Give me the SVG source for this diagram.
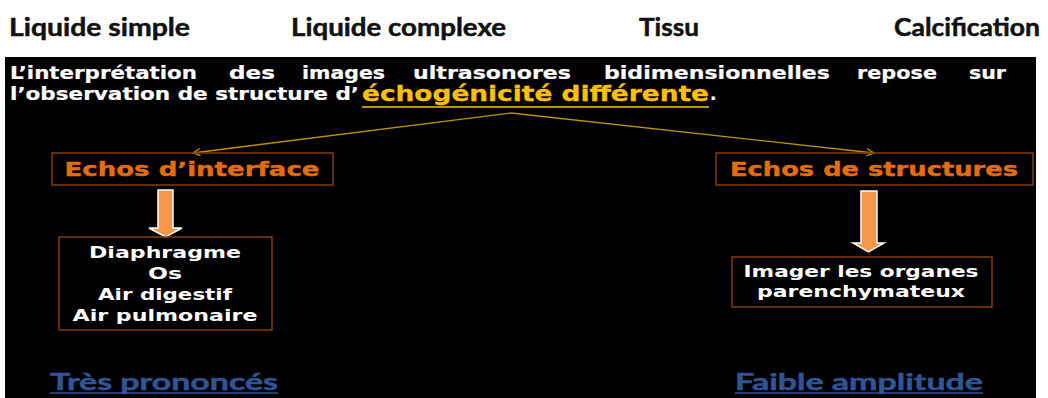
<svg xmlns="http://www.w3.org/2000/svg" width="1048" height="398" viewBox="0 0 1048 398">
  <defs>
    <style>
      .cat { font-family: Lato, "Open Sans", "Liberation Sans", sans-serif; font-weight: bold; font-size: 25px; fill: #111111; stroke: #111111; stroke-width: 0.5; }
      .para { font-family: "DejaVu Sans", Verdana, sans-serif; font-weight: bold; font-size: 17px; fill: #ffffff; stroke: #ffffff; stroke-width: 0.2; }
      .hl { font-family: "DejaVu Sans", Verdana, sans-serif; font-weight: bold; font-size: 21px; fill: #ffc000; stroke: #ffc000; stroke-width: 0.3; }
      .title { font-family: "DejaVu Sans", Verdana, sans-serif; font-weight: bold; font-size: 19px; fill: #e46c0a; stroke: #e46c0a; stroke-width: 0.4; text-anchor: middle; }
      .box { fill: none; stroke: #843c0c; stroke-width: 1.5; }
      .item { font-family: "DejaVu Sans", Verdana, sans-serif; font-weight: bold; font-size: 15px; fill: #ffffff; text-anchor: middle; }
      .note { font-family: Lato, "Open Sans", "Liberation Sans", sans-serif; font-weight: bold; font-size: 23px; fill: #2f5597; stroke: #2f5597; stroke-width: 0.5; }
      .link { fill: none; stroke: #bf9000; stroke-width: 1.4; }
      .bigarrow { fill: #f79646; stroke: #ffffff; stroke-width: 1.5; }
    </style>
    <marker id="open-arrow" viewBox="0 0 10 10" refX="9" refY="5" markerWidth="9" markerHeight="9" orient="auto" markerUnits="userSpaceOnUse">
      <path d="M1,1 L9,5 L1,9" fill="none" stroke="#bf9000" stroke-width="1.4"/>
    </marker>
  </defs>

  <!-- page background -->
  <rect x="0" y="0" width="1048" height="398" fill="#ffffff"/>

  <!-- category headings -->
  <g id="categories">
    <text class="cat" x="9" y="36" textLength="181" lengthAdjust="spacingAndGlyphs">Liquide simple</text>
    <text class="cat" x="291" y="36" textLength="215" lengthAdjust="spacingAndGlyphs">Liquide complexe</text>
    <text class="cat" x="639" y="36" textLength="60" lengthAdjust="spacingAndGlyphs">Tissu</text>
    <text class="cat" x="894" y="36" textLength="146" lengthAdjust="spacingAndGlyphs">Calcification</text>
  </g>

  <!-- dark panel -->
  <rect x="5" y="57" width="1031" height="341" fill="#000000"/>

  <!-- introductory statement -->
  <g id="statement">
    <text class="para" x="10" y="79" textLength="187" lengthAdjust="spacingAndGlyphs">L’interprétation</text>
    <text class="para" x="229" y="79" textLength="46" lengthAdjust="spacingAndGlyphs">des</text>
    <text class="para" x="302" y="79" textLength="83" lengthAdjust="spacingAndGlyphs">images</text>
    <text class="para" x="413" y="79" textLength="158" lengthAdjust="spacingAndGlyphs">ultrasonores</text>
    <text class="para" x="604" y="79" textLength="226" lengthAdjust="spacingAndGlyphs">bidimensionnelles</text>
    <text class="para" x="857" y="79" textLength="80" lengthAdjust="spacingAndGlyphs">repose</text>
    <text class="para" x="969" y="79" textLength="37" lengthAdjust="spacingAndGlyphs">sur</text>
    <text class="para" x="10" y="100" textLength="349" lengthAdjust="spacingAndGlyphs">l’observation de structure d’</text>
    <text class="hl" x="362" y="101" textLength="347" lengthAdjust="spacingAndGlyphs">échogénicité différente</text>
    <line x1="362" y1="107" x2="709" y2="107" stroke="#ffc000" stroke-width="1.6"/>
    <text class="para" x="710" y="100">.</text>
  </g>

  <!-- connectors -->
  <g id="connectors">
    <line class="link" x1="511" y1="113" x2="193" y2="153" marker-end="url(#open-arrow)"/>
    <line class="link" x1="511" y1="113" x2="874" y2="153" marker-end="url(#open-arrow)"/>
    <path class="bigarrow" d="M158,190 L173,190 L173,228 L182,228 L165.5,237 L149,228 L158,228 Z"/>
    <path class="bigarrow" d="M861,191 L877,191 L877,243 L884,243 L868.5,252 L853,243 L861,243 Z"/>
  </g>

  <!-- interface echoes -->
  <g id="echos-interface">
    <rect class="box" x="52" y="153" width="281" height="32"/>
    <text class="title" x="192" y="176" textLength="255" lengthAdjust="spacingAndGlyphs">Echos d’interface</text>
  </g>

  <!-- structure echoes -->
  <g id="echos-structures">
    <rect class="box" x="716" y="153" width="317" height="32"/>
    <text class="title" x="874" y="176" textLength="288" lengthAdjust="spacingAndGlyphs">Echos de structures</text>
  </g>

  <!-- interface examples -->
  <g id="interface-list">
    <rect class="box" x="59" y="237" width="213" height="93" stroke="#9c4a10"/>
    <text class="item" x="165" y="258" textLength="152" lengthAdjust="spacingAndGlyphs">Diaphragme</text>
    <text class="item" x="165" y="279" textLength="34" lengthAdjust="spacingAndGlyphs">Os</text>
    <text class="item" x="165" y="300" textLength="134" lengthAdjust="spacingAndGlyphs">Air digestif</text>
    <text class="item" x="165" y="321" textLength="185" lengthAdjust="spacingAndGlyphs">Air pulmonaire</text>
  </g>

  <!-- structure examples -->
  <g id="structure-list">
    <rect class="box" x="732" y="257" width="260" height="50" stroke="#9c4a10"/>
    <text class="item" x="861" y="277" textLength="235" lengthAdjust="spacingAndGlyphs">Imager les organes</text>
    <text class="item" x="861" y="297" textLength="208" lengthAdjust="spacingAndGlyphs">parenchymateux</text>
  </g>

  <!-- amplitude notes -->
  <g id="note-interface">
    <text class="note" x="50" y="390" textLength="228" lengthAdjust="spacingAndGlyphs">Très prononcés</text>
    <line x1="50" y1="393" x2="278" y2="393" stroke="#2f5597" stroke-width="1.6"/>
  </g>
  <g id="note-structures">
    <text class="note" x="735" y="390" textLength="248" lengthAdjust="spacingAndGlyphs">Faible amplitude</text>
    <line x1="735" y1="393" x2="983" y2="393" stroke="#2f5597" stroke-width="1.6"/>
  </g>
</svg>
